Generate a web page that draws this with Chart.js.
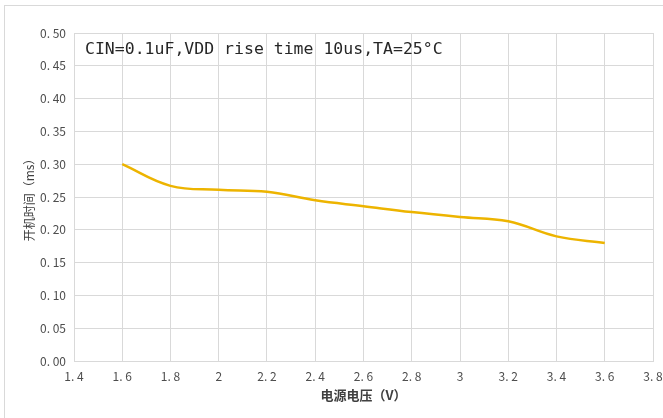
<!DOCTYPE html>
<html>
<head>
<meta charset="utf-8">
<script src="https://cdn.jsdelivr.net/npm/chart.js@4.4.0/dist/chart.umd.min.js"></script>
<style>
  html, body { margin: 0; padding: 0; background: #fff; }
  #wrap { position: relative; width: 663px; height: 418px; overflow: hidden; }
  #frame { position: absolute; left: 4px; top: 5px; width: 700px; height: 500px;
           border-left: 1px solid #d9d9d9; border-top: 1px solid #d9d9d9; }
  canvas { position: absolute; left: 0; top: 0; }
</style>
</head>
<body>
<div id="wrap">
  <div id="frame"></div>
  <canvas id="chart" width="663" height="418"></canvas>
</div>
<script>
// 电源电压 (V)
var voltage = [1.6, 1.8, 2.0, 2.2, 2.4, 2.6, 2.8, 3.0, 3.2, 3.4, 3.6];
// 开机时间 (ms)
var startupTime = [0.300, 0.267, 0.261, 0.258, 0.245, 0.236, 0.227, 0.2195, 0.213, 0.190, 0.180];

var xTickMin = 1.4, xTickMax = 3.8, xStep = 0.2;
var yTickMin = 0, yTickMax = 0.5, yStep = 0.05;

var noteText = 'CIN=0.1uF,VDD rise time 10us,TA=25°C';
var xTitle = '电源电压（V）';
var yTitle = '开机时间（ms）';

var fontFam = '"Noto Sans CJK SC", "DejaVu Sans", sans-serif';

// 图内说明文字
var notePlugin = {
    id: 'note',
    afterDraw: function (chart) {
        var ctx = chart.ctx;
        var area = chart.chartArea;
        ctx.save();
        ctx.font = '16.5px "DejaVu Sans Mono", monospace';
        ctx.fillStyle = '#262626';
        ctx.textBaseline = 'middle';
        ctx.fillText(noteText, area.left + 11, area.top + 17);
        ctx.restore();
    }
};

var ctx = document.getElementById('chart').getContext('2d');
new Chart(ctx, {
    type: 'scatter',
    data: {
        datasets: [{
            data: voltage.map(function (v, i) { return { x: v, y: startupTime[i] }; }),
            showLine: true,
            borderColor: '#EDB400',
            borderWidth: 2.5,
            pointRadius: 0,
            tension: 0.4,
            fill: false
        }]
    },
    options: {
        responsive: false,
        animation: false,
        layout: { padding: { left: 0, right: 10, top: 33, bottom: 15 } },
        plugins: {
            legend: { display: false },
            tooltip: { enabled: false }
        },
        scales: {
            x: {
                type: 'linear',
                min: xTickMin,
                max: xTickMax,
                ticks: {
                    stepSize: xStep,
                    color: '#4d4d4d',
                    font: { family: fontFam, size: 12 },
                    padding: 8,
                    callback: function (v) {
                        var s = String(Math.round(v * 10) / 10);
                        return s.replace('.', '. ');
                    }
                },
                grid: { color: '#d9d9d9', drawTicks: false },
                border: { color: '#d9d9d9' },
                title: {
                    display: true,
                    text: xTitle,
                    color: '#404040',
                    font: { family: fontFam, size: 13, weight: 'bold' },
                    padding: { top: 0, bottom: 0 }
                },
                afterFit: function (scale) {
                    scale.height = 42;
                    scale.paddingRight = 0;
                    scale.paddingLeft = 0;
                }
            },
            y: {
                min: yTickMin,
                max: yTickMax,
                ticks: {
                    stepSize: yStep,
                    color: '#4d4d4d',
                    font: { family: fontFam, size: 12 },
                    padding: 8,
                    callback: function (v) { return v.toFixed(2).replace('.', '. '); }
                },
                grid: { color: '#d9d9d9', drawTicks: false },
                border: { color: '#d9d9d9' },
                title: {
                    display: true,
                    text: yTitle,
                    color: '#404040',
                    font: { family: fontFam, size: 12 },
                    padding: { top: 22, bottom: 4 }
                },
                afterFit: function (scale) { scale.width = 74; }
            }
        }
    },
    plugins: [notePlugin]
});
</script>
</body>
</html>
